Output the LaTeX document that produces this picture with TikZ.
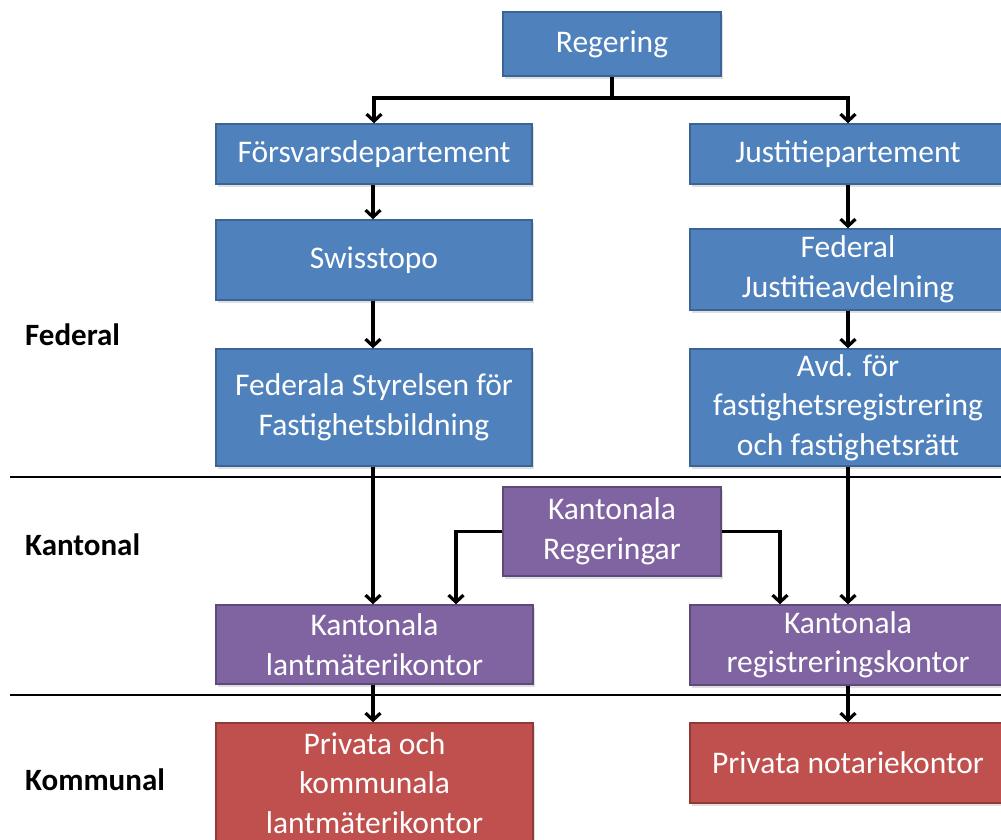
\documentclass[tikz,border=0pt]{standalone}
\usepackage{fontspec}
\setmainfont{Carlito}
\usetikzlibrary{arrows.meta,shadows,calc}
\definecolor{bfill}{HTML}{4F81BD}
\definecolor{bdraw}{HTML}{3A6396}
\definecolor{pfill}{HTML}{8064A2}
\definecolor{pdraw}{HTML}{5E4A7A}
\definecolor{rfill}{HTML}{C0504D}
\definecolor{rdraw}{HTML}{8E3B39}
\tikzset{
  box/.style={rectangle, line width=1.5pt, text=white, align=center,
    inner sep=0pt, font=\fontsize{31.5}{39.5}\selectfont,
    drop shadow={opacity=0.25, shadow xshift=2pt, shadow yshift=-3pt}},
  bluebox/.style={box, fill=bfill, draw=bdraw},
  purplebox/.style={box, fill=pfill, draw=pdraw},
  redbox/.style={box, fill=rfill, draw=rdraw},
  arr/.style={draw=black, line width=3.2pt, -{Straight Barb[length=7pt,width=15pt,line width=3.2pt]}},
  sep/.style={line width=1.2pt},
  level/.style={anchor=west, font=\fontsize{31}{36}\selectfont\bfseries, text=black, inner sep=0pt}
}
\begin{document}
\begin{tikzpicture}[x=1pt,y=-1pt]
\useasboundingbox (0,0) rectangle (1001,839);
\fill[white] (0,0) rectangle (1001,839);
% separators
\draw[sep] (10,477) -- (1001,477);
\draw[sep] (10,695) -- (1001,695);
% level labels
\node[level] (lfed) at (25,335) {Federal};
\node[level] (lkan) at (25,545) {Kantonal};
\node[level] (lkom) at (25,780) {Kommunal};
% nodes
\node[bluebox, minimum width=218pt, minimum height=64pt] (reg) at (612,44) {\raisebox{-4pt}{Regering}};
\node[bluebox, minimum width=316pt, minimum height=60pt] (fd) at (374,154) {Försvarsdepartement};
\node[bluebox, minimum width=316pt, minimum height=60pt] (jd) at (848,154) {Justitiepartement};
\node[bluebox, minimum width=316pt, minimum height=80pt] (sw) at (374,260) {Swisstopo};
\node[bluebox, minimum width=316pt, minimum height=81pt] (fja) at (848,269.5) {Federal\\Justitieavdelning};
\node[bluebox, minimum width=316pt, minimum height=117pt] (fs) at (374,407.5) {Federala Styrelsen för\\Fastighetsbildning};
\node[bluebox, minimum width=316pt, minimum height=117pt] (avd) at (848,407.5) {Avd. för\\fastighetsregistrering\\och fastighetsrätt};
\node[purplebox, minimum width=218pt, minimum height=89pt] (kr) at (612,531.5) {Kantonala\\Regeringar};
\node[purplebox, minimum width=317pt, minimum height=79pt] (klk) at (374.5,644.5) {Kantonala\\lantmäterikontor};
\node[purplebox, minimum width=316pt, minimum height=80pt] (krk) at (848,645) {Kantonala\\registreringskontor};
\node[redbox, minimum width=317pt, minimum height=126pt] (pkl) at (374.5,786) {\raisebox{3pt}{\begin{tabular}{@{}c@{}}Privata och\\kommunala\\lantmäterikontor\end{tabular}}};
\node[redbox, minimum width=316pt, minimum height=80pt] (pn) at (848,763) {Privata notariekontor};
% connectors
\coordinate (bar) at (612,98);
\draw[arr] (reg.south) -- (reg.south |- bar) -| (fd.north);
\draw[arr] (reg.south) -- (reg.south |- bar) -| (jd.north);
\draw[arr] (fd.south -| 373,0) -- (sw.north -| 373,0);
\draw[arr] (sw.south -| 373,0) -- (fs.north -| 373,0);
\draw[arr] (fs.south -| 373,0) -- (klk.north -| 373,0);
\draw[arr] (jd.south) -- (fja.north);
\draw[arr] (fja.south) -- (avd.north);
\draw[arr] (avd.south) -- (krk.north);
\draw[arr] (kr.west) -| ($(klk.north)+(81.5,0)$);
\draw[arr] (kr.east) -| ($(krk.north)+(-68,0)$);
\draw[arr] (klk.south -| 373,0) -- (pkl.north -| 373,0);
\draw[arr] (krk.south) -- (pn.north);
\end{tikzpicture}
\end{document}
